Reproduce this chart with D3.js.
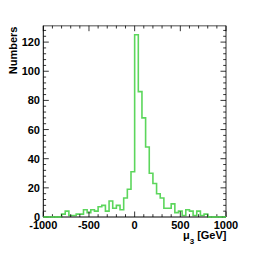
<!DOCTYPE html>
<html><head><meta charset="utf-8">
<script src="https://cdn.jsdelivr.net/npm/d3@7"></script>
<style>body{margin:0;background:#fff}svg{display:block}text{font-family:"Liberation Sans",Arial,sans-serif;font-weight:bold}</style>
</head><body><svg id="c" width="270" height="259"></svg>
<script>
const binEdgesStart = -1000, binWidth = 40;
const counts = [0,0,0,0,0, 2,4,1,1,2,2,5,3,5,4,7,8,4,11,6,8,5,13,19,31,
                125,86,68,48,30,23,16,13,6,6,9,3,4,1,5,4,1,4,1,2, 0,0,0,0,0];
const xTicks = [-1000,-500,0,500,1000];
const yTicks = [0,20,40,60,80,100,120];
const xLabel = "μ", xSub = "3", xUnit = " [GeV]", yLabel = "Numbers";

const svg = d3.select("#c");
const L=43.3, R=226, T=25.7, B=217;
const x = d3.scaleLinear().domain([-1000,1000]).range([L,R]);
const y = d3.scaleLinear().domain([0,131.25]).range([B,T]);

// histogram step path
const pts = [];
counts.forEach((c,i)=>{
  const x0 = binEdgesStart + i*binWidth, x1 = x0 + binWidth;
  pts.push([x(x0), y(c)], [x(x1), y(c)]);
});
svg.append("path").attr("d", d3.line()(pts)).attr("fill","none")
  .attr("stroke","#5cd65c").attr("stroke-width",1.6);

// frame
svg.append("line").attr("x1",L).attr("x2",R).attr("y1",T).attr("y2",T).attr("stroke","#888").attr("stroke-width",1.6);
svg.append("line").attr("x1",R).attr("x2",R).attr("y1",T).attr("y2",B).attr("stroke","#555").attr("stroke-width",1.2);

const g = svg.append("g");
// x axis ticks (inside, bottom and top)
const xMinor = d3.range(-1000,1001,100);
xMinor.forEach(v=>{
  const major = xTicks.includes(v);
  const len = major ? 5.5 : 2.8;
  g.append("line").attr("x1",x(v)).attr("x2",x(v)).attr("y1",B).attr("y2",B-len).attr("stroke","#000").attr("stroke-width",0.8);
  g.append("line").attr("x1",x(v)).attr("x2",x(v)).attr("y1",T).attr("y2",T+len).attr("stroke","#000").attr("stroke-width",0.8);
});
const yMinor = d3.range(0,131,4);
yMinor.forEach(v=>{
  const major = yTicks.includes(v);
  const len = major ? 5.5 : 2.8;
  g.append("line").attr("x1",L).attr("x2",L+len).attr("y1",y(v)).attr("y2",y(v)).attr("stroke","#000").attr("stroke-width",0.8);
  g.append("line").attr("x1",R).attr("x2",R-len).attr("y1",y(v)).attr("y2",y(v)).attr("stroke","#000").attr("stroke-width",0.8);
});
// axes lines
g.append("line").attr("x1",L).attr("x2",L).attr("y1",T).attr("y2",B).attr("stroke","#000").attr("stroke-width",1);
g.append("line").attr("x1",L).attr("x2",R).attr("y1",B).attr("y2",B).attr("stroke","#000").attr("stroke-width",1);
// redraw zero-count baseline in green on top
svg.append("path").attr("d", d3.line()(pts.filter(p=>p[1]===y(0) ))).attr("fill","none");
counts.forEach((c,i)=>{
  if(c===0){
    const x0 = binEdgesStart + i*binWidth;
    svg.append("line").attr("x1",x(x0)).attr("x2",x(x0+binWidth)).attr("y1",B).attr("y2",B)
      .attr("stroke","#5cd65c").attr("stroke-width",1.6);
  }
});

// labels
xTicks.forEach(v=>{
  g.append("text").attr("x",x(v)).attr("y",228.5).attr("text-anchor","middle").attr("font-size",11).text(v);
});
yTicks.forEach(v=>{
  g.append("text").attr("x",40).attr("y",y(v)+4).attr("text-anchor","end").attr("font-size",11).text(v);
});
const xt = g.append("text").attr("x",226.5).attr("y",239).attr("text-anchor","end").attr("font-size",11);
xt.append("tspan").text(xLabel);
xt.append("tspan").attr("font-size",8).attr("dy",5).text(xSub);
xt.append("tspan").attr("dy",-5).text(xUnit);
g.append("text").attr("transform","translate(16.5,26.5) rotate(-90)").attr("text-anchor","end").attr("font-size",11).text(yLabel);
</script></body></html>
